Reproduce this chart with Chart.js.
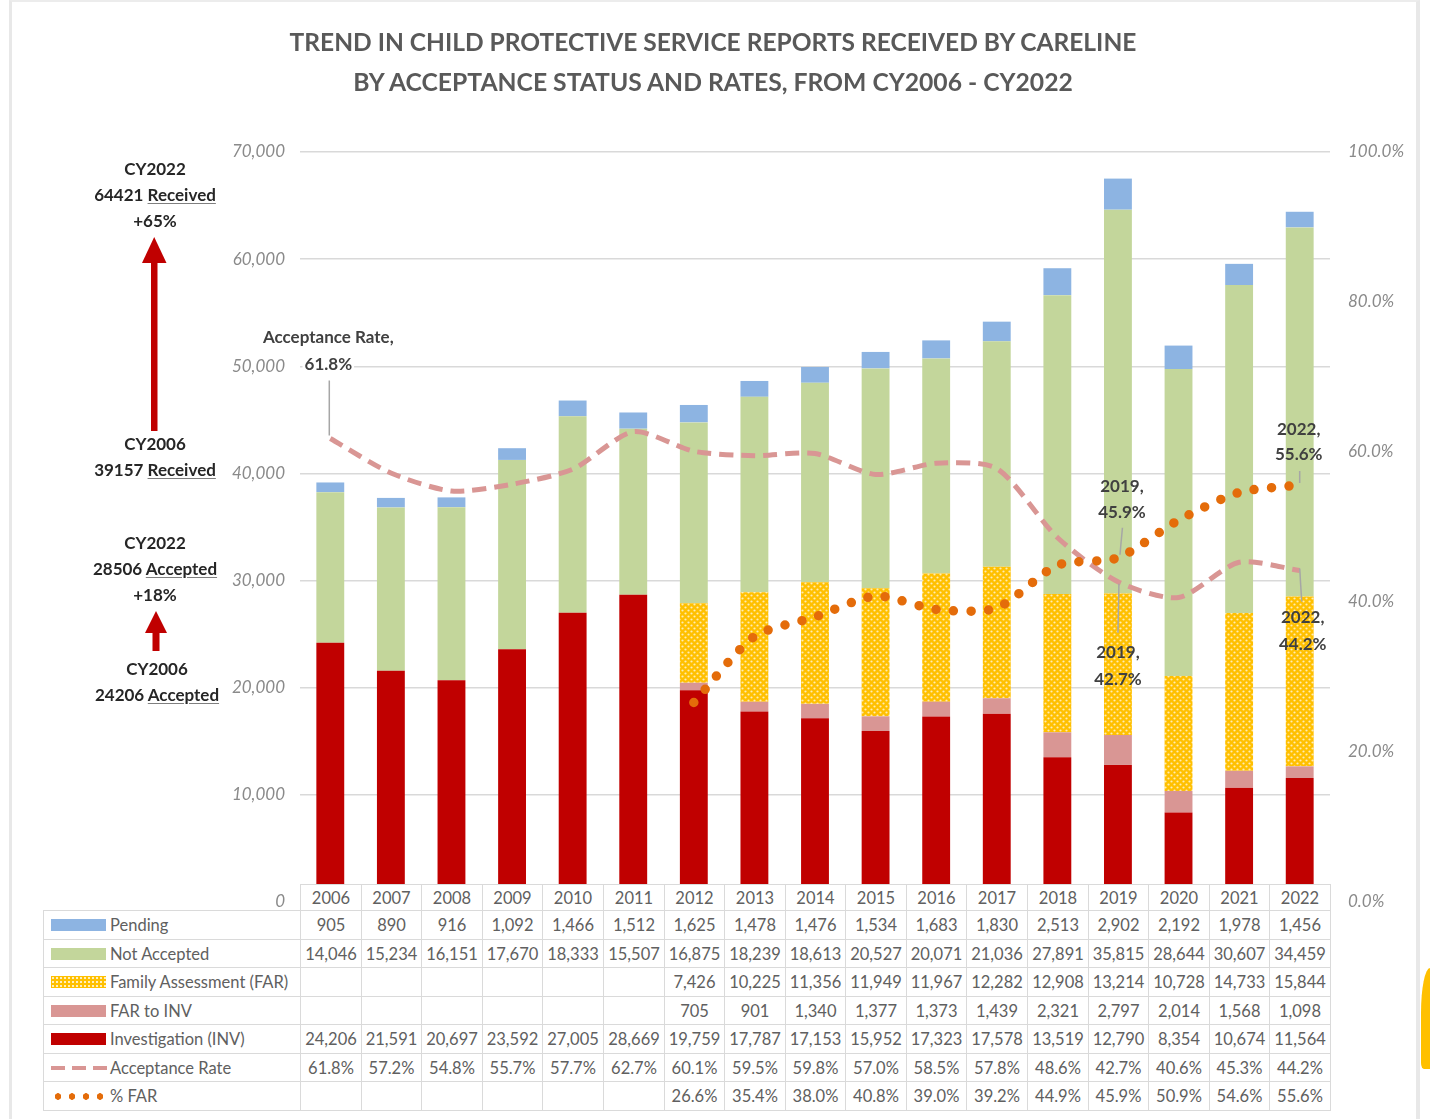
<!DOCTYPE html>
<html><head><meta charset="utf-8">
<script src="https://cdn.jsdelivr.net/npm/chart.js@4.4.1/dist/chart.umd.min.js"></script>
<style>
html,body{margin:0;padding:0;background:#fff;}
body{width:1430px;height:1119px;position:relative;overflow:hidden;font-family:Lato,'Open Sans',sans-serif;}
#frame{position:absolute;left:9px;top:0;width:1404px;height:1130px;border-left:3px solid #e8e8e8;border-right:4px solid #e8e8e8;border-top:2px solid #ececec;box-sizing:content-box;}
#cv{position:absolute;left:0;top:0;}
.tl{position:absolute;left:0;width:1426px;text-align:center;color:#595959;font-weight:bold;white-space:nowrap;}
.tl span{display:inline-block;}
.ann{position:absolute;width:200px;left:55px;text-align:center;font-weight:bold;font-size:17px;color:#262626;line-height:26px;}
.ann u{text-decoration:underline;text-decoration-color:#7f7f7f;text-underline-offset:2px;}
#tbl{position:absolute;left:0;top:0;}
.cell{position:absolute;box-sizing:border-box;border:1px solid #dadada;background:#fff;color:#606060;font-size:16.5px;display:flex;align-items:center;justify-content:center;white-space:nowrap;}
.cell.lab{justify-content:flex-start;padding-left:66px;}
.sw{position:absolute;left:7px;top:50%;}
#yel{position:absolute;left:1421px;top:968px;width:12px;height:101px;background:#FFC000;border-top-left-radius:9px 45px;border-bottom-left-radius:3px 6px;}
</style></head>
<body>
<div id="frame"></div>
<canvas id="cv" width="1430" height="1119"></canvas>
<div class="tl" id="t1" style="top:22px;height:40px;line-height:40px;"><span>TREND IN CHILD PROTECTIVE SERVICE REPORTS RECEIVED BY CARELINE</span></div>
<div class="tl" id="t2" style="top:62px;height:40px;line-height:40px;"><span>BY ACCEPTANCE STATUS AND RATES, FROM CY2006 - CY2022</span></div>

<div class="ann" style="top:156px;">CY2022<br>64421 <u>Received</u><br>+65%</div>
<div class="ann" style="top:431px;">CY2006<br>39157 <u>Received</u></div>
<div class="ann" style="top:530px;">CY2022<br>28506 <u>Accepted</u><br>+18%</div>
<div class="ann" style="top:656px;left:57px;">CY2006<br>24206 <u>Accepted</u></div>

<svg style="position:absolute;left:0;top:0;" width="1430" height="1119">
  <rect x="151" y="258" width="6.5" height="173" fill="#C00000"/>
  <polygon points="154.2,237 142,263 166.5,263" fill="#C00000"/>
  <rect x="152.5" y="630" width="7" height="21" fill="#C00000"/>
  <polygon points="156,611 145,633 167,633" fill="#C00000"/>
</svg>
<div id="tbl"></div>
<div id="yel"></div>

<script>
// ---------- data ----------
const years = ['2006','2007','2008','2009','2010','2011','2012','2013','2014','2015','2016','2017','2018','2019','2020','2021','2022'];
const pending = [905,890,916,1092,1466,1512,1625,1478,1476,1534,1683,1830,2513,2902,2192,1978,1456];
const notAccepted = [14046,15234,16151,17670,18333,15507,16875,18239,18613,20527,20071,21036,27891,35815,28644,30607,34459];
const familyAssessment = [null,null,null,null,null,null,7426,10225,11356,11949,11967,12282,12908,13214,10728,14733,15844];
const farToInv = [null,null,null,null,null,null,705,901,1340,1377,1373,1439,2321,2797,2014,1568,1098];
const investigation = [24206,21591,20697,23592,27005,28669,19759,17787,17153,15952,17323,17578,13519,12790,8354,10674,11564];
const acceptanceRate = [61.8,57.2,54.8,55.7,57.7,62.7,60.1,59.5,59.8,57.0,58.5,57.8,48.6,42.7,40.6,45.3,44.2];
const pctFar = [null,null,null,null,null,null,26.6,35.4,38.0,40.8,39.0,39.2,44.9,45.9,50.9,54.6,55.6];
const countTicks = [0,10000,20000,30000,40000,50000,60000,70000];
const rateTicks = [0,20,40,60,80,100];

const FONT = "Lato, 'Open Sans', sans-serif";
const fmtN = v => v.toLocaleString('en-US');
const fmtP = v => v.toFixed(1) + '%';

function farPattern(ctx){
  const c = document.createElement('canvas'); c.width = 6; c.height = 6;
  const g = c.getContext('2d');
  g.fillStyle = '#FFC000'; g.fillRect(0,0,6,6);
  g.fillStyle = 'rgba(255,255,255,0.7)';
  g.beginPath(); g.arc(1.5,1.5,1.1,0,Math.PI*2); g.fill();
  g.beginPath(); g.arc(4.5,4.5,1.1,0,Math.PI*2); g.fill();
  return ctx.createPattern(c,'repeat');
}

function fitTitle(id, target){
  const sp = document.querySelector('#'+id+' span');
  sp.style.fontSize = '24px';
  const w = sp.getBoundingClientRect().width;
  sp.style.fontSize = (24*target/w).toFixed(2)+'px';
}

const rateLabels = {
  id: 'rateLabels',
  afterDatasetsDraw(chart, args, opts){
    const ctx = chart.ctx, xs = chart.scales.x, ys = chart.scales.y2;
    opts.items.forEach(it => {
      const v = it.data[it.index];
      const px = xs.getPixelForValue(it.index), py = ys.getPixelForValue(v);
      const lines = [it.head ? it.head : years[it.index] + ',', fmtP(v)];
      ctx.save();
      ctx.strokeStyle = '#a6a6a6'; ctx.lineWidth = 1.5;
      ctx.beginPath(); ctx.moveTo(px + it.l1[0], py + it.l1[1]); ctx.lineTo(px + it.l2[0], py + it.l2[1]); ctx.stroke();
      ctx.font = 'bold 17px ' + FONT;
      ctx.textAlign = 'center'; ctx.textBaseline = 'middle';
      lines.forEach((t, k) => {
        const cx = px + it.dx, cy = py + it.dy[k];
        if (it.bg) {
          const w = ctx.measureText(t).width;
          ctx.fillStyle = '#fff'; ctx.fillRect(cx - w/2 - 2, cy - 11, w + 4, 22);
        }
        ctx.fillStyle = '#404040';
        ctx.fillText(t, cx, cy);
      });
      ctx.restore();
    });
  }
};

function buildTable(chart){
  const xs = chart.scales.x, ca = chart.chartArea;
  const colW = (ca.right - ca.left) / years.length;
  const tbl = document.getElementById('tbl');
  function cell(x, y, w, h, html, cls){
    const d = document.createElement('div');
    d.className = 'cell' + (cls ? ' ' + cls : '');
    d.style.left = Math.round(x) + 'px'; d.style.top = Math.round(y) + 'px';
    d.style.width = (Math.round(x + w) - Math.round(x) + 1) + 'px';
    d.style.height = (Math.round(y + h) - Math.round(y) + 1) + 'px';
    d.innerHTML = html; tbl.appendChild(d); return d;
  }
  years.forEach((yr, i) => { const cx = xs.getPixelForValue(i); cell(cx - colW/2, 884, colW, 26, yr); });
  const pat = "background:#FFC000;background-image:radial-gradient(circle, rgba(255,255,255,.75) 1px, transparent 1.3px);background-size:4px 4px;";
  const rows = [
    {label:'Pending', vals:pending, f:fmtN, sw:'<div class="sw" style="width:55px;height:12px;margin-top:-6px;background:#8DB4E2"></div>'},
    {label:'Not Accepted', vals:notAccepted, f:fmtN, sw:'<div class="sw" style="width:55px;height:12px;margin-top:-6px;background:#C3D69B"></div>'},
    {label:'Family Assessment (FAR)', vals:familyAssessment, f:fmtN, sw:'<div class="sw" style="width:55px;height:12px;margin-top:-6px;'+pat+'"></div>'},
    {label:'FAR to INV', vals:farToInv, f:fmtN, sw:'<div class="sw" style="width:55px;height:12px;margin-top:-6px;background:#D99694"></div>'},
    {label:'Investigation (INV)', vals:investigation, f:fmtN, sw:'<div class="sw" style="width:55px;height:12px;margin-top:-6px;background:#C00000"></div>'},
    {label:'Acceptance Rate', vals:acceptanceRate, f:fmtP, sw:'<div class="sw" style="width:56px;height:4px;margin-top:-2px;background:repeating-linear-gradient(90deg,#D99694 0 14px,transparent 14px 21px)"></div>'},
    {label:'% FAR', vals:pctFar, f:fmtP, sw:'<div class="sw" style="width:52px;height:7px;margin-top:-3px;background:radial-gradient(circle,#E46C0A 3px,transparent 3.5px) 0 0/14px 7px"></div>'}
  ];
  const rowH = 28.57;
  rows.forEach((r, k) => {
    const y = 910 + k * rowH;
    cell(43, y, 257, rowH, r.sw + r.label, 'lab');
    r.vals.forEach((v, i) => {
      const cx = xs.getPixelForValue(i);
      cell(cx - colW/2, y, colW, rowH, v == null ? '' : r.f(v));
    });
  });
}

function draw(){
  fitTitle('t1', 847);
  fitTitle('t2', 720);
  const ctx = document.getElementById('cv').getContext('2d');
  const chart = new Chart(ctx, {
    data: {
      labels: years,
      datasets: [
        {type:'bar', label:'Investigation (INV)', data:investigation, backgroundColor:'#C00000', order:2},
        {type:'bar', label:'FAR to INV', data:farToInv, backgroundColor:'#D99694', order:2},
        {type:'bar', label:'Family Assessment (FAR)', data:familyAssessment, backgroundColor:farPattern(ctx), order:2},
        {type:'bar', label:'Not Accepted', data:notAccepted, backgroundColor:'#C3D69B', order:2},
        {type:'bar', label:'Pending', data:pending, backgroundColor:'#8DB4E2', order:2},
        {type:'line', label:'Acceptance Rate', data:acceptanceRate, yAxisID:'y2', borderColor:'#D99694', borderWidth:5, borderDash:[14,8], tension:0.25, pointRadius:0, fill:false, order:1},
        {type:'line', label:'% FAR', data:pctFar, yAxisID:'y2', borderColor:'#E46C0A', borderWidth:9.5, borderDash:[0,17.5], borderCapStyle:'round', tension:0.25, pointRadius:0, fill:false, order:0}
      ]
    },
    options: {
      responsive:false, animation:false, devicePixelRatio:1,
      layout:{padding:{top:152, bottom:217, left:0, right:0}},
      datasets:{bar:{categoryPercentage:1, barPercentage:0.46}},
      plugins:{
        legend:{display:false}, tooltip:{enabled:false},
        rateLabels:{items:[
          {data:acceptanceRate, index:0, head:'Acceptance Rate,', dx:-2, dy:[-101,-74], l1:[-1,-58], l2:[-1,-3], bg:true},
          {data:pctFar, index:13, dx:4, dy:[-71,-45], l1:[4.5,-30], l2:[2,-3]},
          {data:acceptanceRate, index:13, dx:0, dy:[71,98], l1:[1,2], l2:[0,51]},
          {data:pctFar, index:16, dx:-1, dy:[-55,-30], l1:[0,-14], l2:[0,-2]},
          {data:acceptanceRate, index:16, dx:3, dy:[47.5,74.5], l1:[0,-2], l2:[2,31]}
        ]}
      },
      scales:{
        x:{display:false, stacked:true},
        y:{
          position:'left', stacked:true, min:0, max:70000,
          afterBuildTicks: s => { s.ticks = countTicks.map(v => ({value:v})); },
          afterFit: s => { s.width = 300; },
          ticks:{callback:v => fmtN(v), color:'#8a8a8a', padding:15, font:{family:FONT, style:'italic', size:17}},
          grid:{color:'#d9d9d9', lineWidth:1.5, drawTicks:false},
          border:{display:false}
        },
        y2:{
          position:'right', min:0, max:100,
          afterBuildTicks: s => { s.ticks = rateTicks.map(v => ({value:v})); },
          afterFit: s => { s.width = 100; },
          ticks:{callback:v => fmtP(v), color:'#8a8a8a', padding:18, font:{family:FONT, style:'italic', size:17}},
          grid:{display:false, drawTicks:false},
          border:{display:false}
        }
      }
    },
    plugins:[rateLabels]
  });
  buildTable(chart);
}

Promise.all([
  document.fonts.load("italic 17px Lato"),
  document.fonts.load("bold 17px Lato"),
  document.fonts.load("16px Lato")
]).then(draw, draw);
</script>
</body></html>
